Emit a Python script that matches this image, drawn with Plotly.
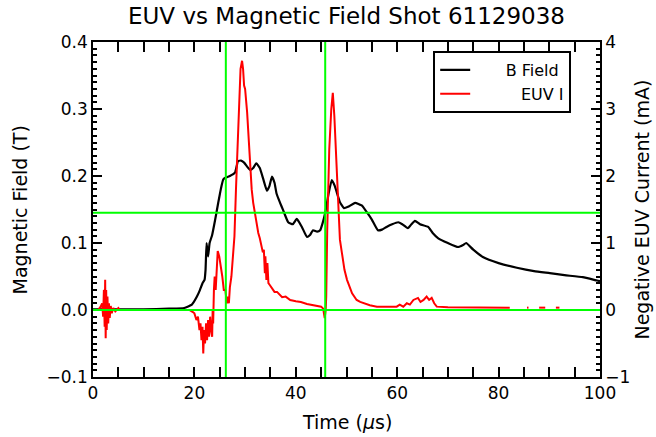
import plotly.graph_objects as go

# ---------------- data ----------------
B_T = [
    0.0, 5.0, 10.0, 15.0, 18.0, 19.5, 20.5, 21.1, 21.6, 22.0,
    22.2, 22.4, 22.7, 23.0, 23.5, 24.1, 24.7, 25.2, 25.7, 26.3,
    27.0, 28.0, 28.6, 29.2, 29.8, 30.4, 31.0, 31.6, 32.2, 32.9,
    33.6, 34.3, 34.8, 35.3, 35.8, 36.2, 36.9, 37.5, 38.5, 39.4,
    40.2, 41.2, 42.2, 42.8, 43.4, 44.2, 44.8, 45.3, 45.8, 46.5,
    47.1, 47.7, 48.7, 49.5, 50.3, 51.7, 53.0, 54.0, 55.0, 56.2,
    57.0, 57.9, 59.0, 60.2, 61.0, 62.1, 62.8, 63.5, 64.5, 66.1,
    67.0, 68.1, 70.0, 72.0, 73.0, 73.6, 75.0, 76.9, 80.0, 83.6,
    87.0, 90.1, 93.0, 96.6, 99.4, 100.0]
B_FIELD = [
    0.001, 0.001, 0.001, 0.002, 0.003, 0.008, 0.02, 0.03, 0.04, 0.045,
    0.06, 0.1, 0.08, 0.1, 0.112, 0.135, 0.16, 0.18, 0.195, 0.198,
    0.2, 0.205, 0.222, 0.223, 0.22, 0.214, 0.209, 0.212, 0.219, 0.212,
    0.195, 0.178, 0.185, 0.199, 0.19, 0.174, 0.16, 0.149, 0.131, 0.128,
    0.136, 0.124, 0.109, 0.112, 0.119, 0.117, 0.119, 0.13, 0.145, 0.175,
    0.194, 0.185, 0.161, 0.152, 0.154, 0.16, 0.156, 0.146, 0.135, 0.119,
    0.12, 0.124, 0.128, 0.131, 0.128, 0.122, 0.128, 0.133, 0.128, 0.124,
    0.115, 0.107, 0.1, 0.094, 0.097, 0.1, 0.09, 0.079, 0.07, 0.063,
    0.058, 0.055, 0.052, 0.049, 0.044, 0.043]

E_T = [
    0.0, 1.0, 1.5, 1.8, 2.0, 2.15, 2.3, 2.4, 2.5, 2.6,
    2.7, 2.85, 3.0, 3.15, 3.3, 3.5, 3.7, 4.0, 4.4, 5.0,
    5.3, 8.0, 12.0, 16.0, 19.0, 19.7, 20.0, 20.4, 20.7, 21.0,
    21.2, 21.4, 21.6, 21.75, 21.9, 22.1, 22.3, 22.5, 22.7, 22.9,
    23.1, 23.3, 23.5, 23.6, 23.7, 23.85, 24.0, 24.2, 24.4, 24.6,
    24.9, 25.2, 25.5, 25.8, 26.1, 26.4, 26.6, 26.8, 27.0, 27.3,
    27.6, 27.9, 28.2, 28.5, 28.8, 29.1, 29.4, 29.6, 29.8, 30.0,
    30.4, 30.7, 31.0, 31.3, 31.6, 32.0, 32.3, 32.6, 32.9, 33.2,
    33.5, 33.7, 33.9, 34.0, 34.2, 34.4, 34.6, 34.9, 35.3, 35.8,
    36.3, 37.3, 38.0, 38.9, 40.0, 41.0, 42.2, 43.5, 45.0, 45.4,
    45.7, 45.9, 46.0, 46.2, 46.6, 47.0, 47.3, 47.6, 47.9, 48.4,
    48.7, 49.1, 49.6, 50.1, 51.1, 52.0, 52.7, 54.6, 56.0, 59.9,
    60.5, 61.2, 61.9, 62.5, 63.2, 64.1, 64.6, 65.2, 65.8, 66.3,
    66.8, 67.3, 67.8, 70.0, 74.0, 78.0, 82.2, 82.3, 85.6, 85.9,
    86.0, 88.0, 89.2, 89.3, 91.3, 92.0]
EUV_I = [
    0.0, 0.0, 0.05, 0.1, -0.1, 0.3, -0.25, 0.45, -0.42, 0.3,
    -0.3, 0.2, -0.2, 0.1, -0.12, 0.06, -0.05, 0.03, -0.02, 0.03,
    0.0, 0.0, 0.0, 0.0, 0.0, -0.03, -0.05, -0.15, -0.1, -0.3,
    -0.2, -0.45, -0.25, -0.65, -0.3, -0.5, -0.2, -0.45, -0.15, -0.4,
    -0.1, -0.3, -0.4, 0.0, -0.2, 0.3, 0.5, 0.3, 0.7, 0.88,
    0.8, 0.68, 0.5, 0.3, 0.3, 0.1, 0.2, 0.1, 0.34, 0.5,
    0.85, 1.1, 1.8, 2.5, 3.2, 3.6, 3.72, 3.6, 3.35, 3.3,
    2.95, 2.5, 2.1, 1.8, 1.6, 1.4, 1.24, 1.15, 1.07, 0.95,
    0.86, 0.9, 0.55, 0.8, 0.45, 0.7, 0.4, 0.37, 0.32, 0.27,
    0.27, 0.19, 0.2, 0.15, 0.13, 0.12, 0.09, 0.07, 0.05, 0.02,
    -0.12, 0.0, 0.2, 1.2, 2.4, 3.0, 3.24, 2.9, 2.4, 1.45,
    1.05, 0.85, 0.6, 0.45, 0.25, 0.15, 0.12, 0.07, 0.05, 0.05,
    0.08, 0.05, 0.1, 0.08, 0.15, 0.18, 0.12, 0.15, 0.2, 0.15,
    0.18, 0.1, 0.05, 0.04, 0.04, 0.035, 0.035, None, 0.035, 0.035,
    None, 0.035, 0.035, None, 0.035, 0.035]

VLINE_T = [26.2, 45.8]        # green vertical markers (time, us)
HLINE_B = [0.145, 0.0]        # green horizontal markers (Tesla)

X_TICKS = [0, 20, 40, 60, 80, 100]
Y_TICKS = [-0.1, 0.0, 0.1, 0.2, 0.3, 0.4]
Y2_TICKS = [-1, 0, 1, 2, 3, 4]

FONT = "DejaVu Sans"
NB = "\u00a0"

fig = go.Figure()
fig.add_trace(go.Scatter(
    x=B_T, y=B_FIELD, name=NB * 6 + "B Field", mode="lines",
    line=dict(color="black", width=2.2, shape="spline", smoothing=0.4),
    yaxis="y"))
fig.add_trace(go.Scatter(
    x=E_T, y=EUV_I, name=NB * 9 + "EUV I", mode="lines",
    line=dict(color="red", width=2), connectgaps=False,
    yaxis="y2"))

shapes = []
for t in VLINE_T:
    shapes.append(dict(type="line", xref="x", yref="paper", x0=t, x1=t, y0=0, y1=1,
                       line=dict(color="#00ff00", width=2), layer="above"))
for b in HLINE_B:
    shapes.append(dict(type="line", xref="paper", yref="y", x0=0, x1=1, y0=b, y1=b,
                       line=dict(color="#00ff00", width=2), layer="above"))

axis_common = dict(
    showgrid=False, zeroline=False, showline=True, linecolor="black", linewidth=1.5,
    ticks="inside", tickcolor="black", tickwidth=1.5,
    tickfont=dict(family=FONT, size=17, color="black"),
)

fig.update_layout(
    width=656, height=437,
    margin=dict(l=93, r=56, t=42, b=60),
    paper_bgcolor="white", plot_bgcolor="white",
    font=dict(family=FONT, color="black"),
    title=dict(text="EUV vs Magnetic Field Shot 61129038", x=0.5, xref="paper",
               y=0.963, yanchor="middle", font=dict(family=FONT, size=23, color="black")),
    xaxis=dict(range=[0, 100], tickvals=X_TICKS, ticklen=10, mirror="allticks",
               minor=dict(dtick=5, ticklen=5, ticks="inside", tickcolor="black", tickwidth=1.5),
               **axis_common),
    yaxis=dict(range=[-0.1, 0.4], tickvals=Y_TICKS, tickformat=".1f", ticklen=9,
               minor=dict(dtick=0.01, ticklen=4.5, ticks="inside", tickcolor="black", tickwidth=1.5),
               **axis_common),
    yaxis2=dict(range=[-1, 4], tickvals=Y2_TICKS, overlaying="y", side="right", ticklen=9,
                minor=dict(dtick=0.1, ticklen=4.5, ticks="inside", tickcolor="black", tickwidth=1.5),
                **axis_common),
    legend=dict(x=0.671, y=0.973, xanchor="left", yanchor="top",
                bordercolor="black", borderwidth=2, bgcolor="white",
                font=dict(family=FONT, size=16, color="black"),
                tracegroupgap=0),
    showlegend=True,
    shapes=shapes,
    annotations=[
        dict(text="Magnetic Field (T)", xref="paper", yref="paper", x=-0.144, y=0.5,
             textangle=-90, showarrow=False, xanchor="center", yanchor="middle",
             font=dict(family=FONT, size=19, color="black")),
        dict(text="Negative EUV Current (mA)", xref="paper", yref="paper", x=1.081, y=0.5,
             textangle=-90, showarrow=False, xanchor="center", yanchor="middle",
             font=dict(family=FONT, size=19, color="black")),
        dict(text="Time (<i>\u03bc</i>s)", xref="paper", yref="paper", x=0.5, y=-0.134,
             showarrow=False, xanchor="center", yanchor="middle",
             font=dict(family=FONT, size=19, color="black")),
    ],
)

fig.write_html("out.html")
